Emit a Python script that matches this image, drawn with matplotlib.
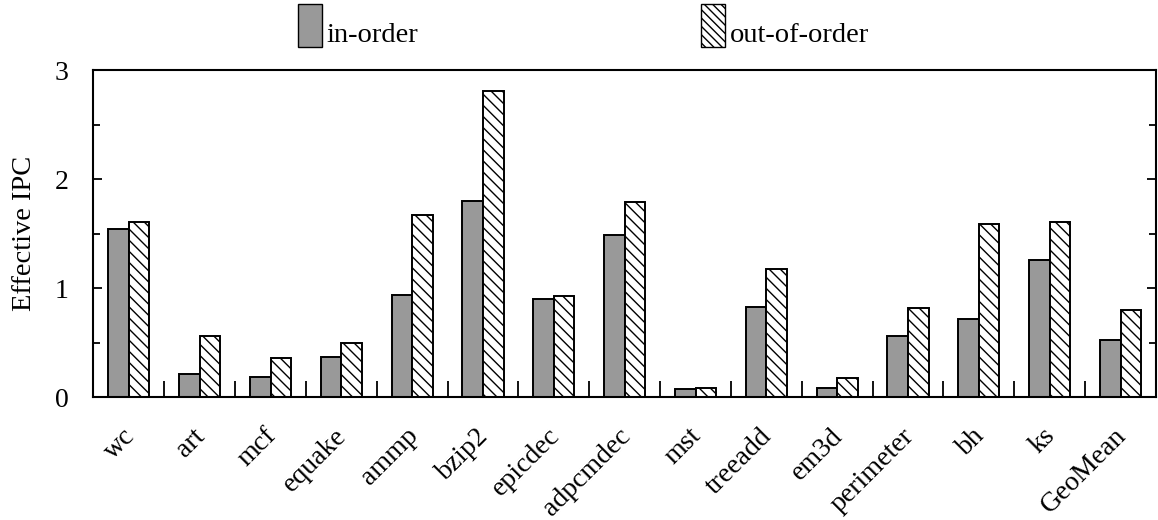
import matplotlib
matplotlib.use("Agg")
import matplotlib.pyplot as plt
from matplotlib.patches import Patch, Rectangle
from matplotlib.legend_handler import HandlerPatch
from matplotlib.transforms import ScaledTranslation
import numpy as np

categories = ["wc", "art", "mcf", "equake", "ammp", "bzip2", "epicdec", "adpcmdec",
              "mst", "treeadd", "em3d", "perimeter", "bh", "ks", "GeoMean"]
in_order = [1.54, 0.21, 0.18, 0.37, 0.94, 1.80, 0.90, 1.49, 0.07, 0.83, 0.08, 0.56, 0.72, 1.26, 0.52]
out_of_order = [1.61, 0.56, 0.36, 0.50, 1.67, 2.81, 0.93, 1.79, 0.08, 1.17, 0.17, 0.82, 1.59, 1.61, 0.80]
series_names = ["in-order", "out-of-order"]
y_ticks = [0, 1, 2, 3]

plt.rcParams['font.family'] = ['Liberation Serif', 'DejaVu Serif']
plt.rcParams['hatch.linewidth'] = 1.0

fig = plt.figure(figsize=(11.58, 5.2), dpi=100)
ax = fig.add_axes([0.0807, 0.2365, 0.9175, 0.6288])

x = np.arange(len(categories))
w = 0.29
ax.bar(x - w / 2, in_order, width=w, color="#999999", edgecolor="black", linewidth=1.4,
       label=series_names[0], zorder=2)
ax.bar(x + w / 2, out_of_order, width=w, color="white", edgecolor="black", linewidth=1.4,
       hatch="\\\\\\", label=series_names[1], zorder=2)

ax.set_xlim(-0.5, len(categories) - 0.5)
ax.set_ylim(0, 3)

ax.set_xticks(x)
ax.set_xticklabels(categories, rotation=45, ha="right", va="top", rotation_mode="anchor",
                   fontsize=20)
ax.tick_params(axis="x", which="major", length=0, pad=19)
offset = ScaledTranslation(-7 / 100, 0, fig.dpi_scale_trans)
for lbl in ax.get_xticklabels():
    lbl.set_transform(lbl.get_transform() + offset)
ax.set_xticks(np.arange(0.5, len(categories) - 1, 1.0), minor=True)
ax.tick_params(axis="x", which="minor", direction="in", length=11.5, width=1.3, bottom=True, top=False)

ax.set_yticks(y_ticks)
ax.set_yticks(np.arange(0.5, 3, 1.0), minor=True)
ax.tick_params(axis="y", which="major", direction="in", length=6.5, width=1.3, left=True, right=True,
               labelsize=20, pad=18)
ax.tick_params(axis="y", which="minor", direction="in", length=5, width=1.3, left=True, right=True)

for s in ax.spines.values():
    s.set_linewidth(1.5)

ax.set_ylabel("Effective IPC", fontsize=20.5, labelpad=13)


def tall_patch(legend, orig_handle, xdescent, ydescent, width, height, fontsize):
    return Rectangle(xy=(-xdescent, -3.6), width=width, height=31)


handles = [Patch(facecolor="#999999", edgecolor="black", linewidth=1.0),
           Patch(facecolor="white", edgecolor="black", linewidth=1.0, hatch="\\\\\\\\")]
fig.legend(handles, series_names, loc="upper left", bbox_to_anchor=(298 / 1158, 1 - 15 / 520),
           ncol=2, frameon=False, fontsize=20.5, handlelength=0.84, handleheight=1.5,
           handletextpad=0.17, columnspacing=9.92, borderpad=0, borderaxespad=0,
           handler_map={Patch: HandlerPatch(patch_func=tall_patch)})

fig.savefig("out.png", dpi=100)
